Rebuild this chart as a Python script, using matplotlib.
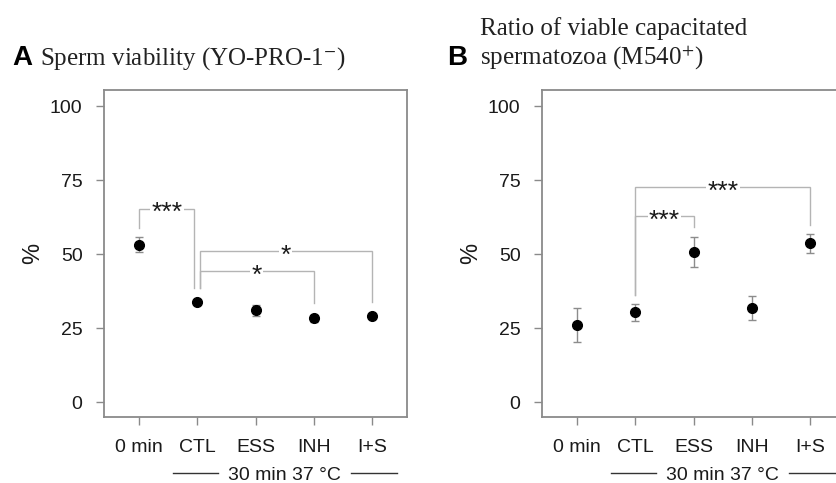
import matplotlib
matplotlib.use("Agg")
import matplotlib.pyplot as plt
import matplotlib.transforms as mtransforms

plt.rcParams["font.family"] = ["Liberation Sans", "DejaVu Sans"]
plt.rcParams["mathtext.fontset"] = "stix"

groups = ["0 min", "CTL", "ESS", "INH", "I+S"]

# A: viable sperm (YO-PRO-1 negative), mean and error
viab_mean = [53.2, 33.8, 31.0, 28.4, 29.1]
viab_err = [2.5, 0.7, 1.8, 1.2, 0.8]

# B: viable capacitated sperm (M540 positive), mean and error
cap_mean = [26.0, 30.3, 50.8, 31.9, 53.6]
cap_err = [5.8, 2.8, 5.1, 4.0, 3.3]

# significance brackets: x1, x2, y of bar, bottom of left leg, bottom of right leg, label
brackets_a = [
    (1.0, 1.95, 65.4, 58.8, 38.5, "***"),
    (2.04, 5.0, 51.1, 38.5, 33.8, "*"),
    (2.04, 4.0, 44.4, 38.5, 33.4, "*"),
]
brackets_b = [
    (2.0, 5.0, 72.7, 36.1, 59.8, "***"),
    (2.0, 3.0, 62.9, 36.1, 59.2, "***"),
]

FRAME = "#8a8a8a"
BRACKET = "#b4b4b4"
TXT = "#1a1a1a"

fig = plt.figure(figsize=(8.37, 4.83), dpi=100)
ax_a = fig.add_axes([0.1243, 0.1366, 0.362, 0.677])
ax_b = fig.add_axes([0.6476, 0.1366, 0.362, 0.677])


def draw_panel(ax, mean, err, brackets):
    xs = list(range(1, len(groups) + 1))
    ax.errorbar(xs, mean, yerr=err, fmt="none", ecolor="#8c8c8c",
                elinewidth=1.0, capsize=3, capthick=1.0, zorder=2)
    ax.plot(xs, mean, "o", color="black", markersize=7, zorder=3)

    for x1, x2, y, y1, y2, lab in brackets:
        ax.plot([x1, x1, x2, x2], [y1, y, y, y2], color=BRACKET, lw=1.0,
                zorder=1, solid_joinstyle="miter")
        off = mtransforms.offset_copy(ax.transData, fig=fig, x=0, y=-8.5,
                                      units="points")
        ax.text((x1 + x2) / 2, y, lab, transform=off, ha="center",
                va="baseline", fontsize=19, color=TXT, zorder=4,
                bbox=dict(facecolor="white", edgecolor="none", pad=1.0))

    ax.set_xlim(0.4, 5.6)
    ax.set_ylim(-5, 105.4)
    ax.set_xticks(xs)
    ax.set_xticklabels(groups)
    ax.set_yticks([0, 25, 50, 75, 100])
    ax.set_ylabel("%", fontsize=17, color=TXT, labelpad=4)
    ax.tick_params(axis="both", direction="out", length=5.5, width=1.0,
                   color=FRAME, labelsize=14, labelcolor=TXT, pad=10)
    for sp in ax.spines.values():
        sp.set_color(FRAME)
        sp.set_linewidth(1.3)

    # "30 min 37 °C" group label under the four treatments
    tr = mtransforms.blended_transform_factory(ax.transData, ax.transAxes)
    ax.text(3.5, -0.193, "30 min 37 °C", transform=tr, ha="center",
            va="baseline", fontsize=14, color=TXT, clip_on=False)
    ax.plot([1.58, 2.36], [-0.17, -0.17], transform=tr, color="#333333",
            lw=1.0, clip_on=False)
    ax.plot([4.64, 5.42], [-0.17, -0.17], transform=tr, color="#333333",
            lw=1.0, clip_on=False)


draw_panel(ax_a, viab_mean, viab_err, brackets_a)
draw_panel(ax_b, cap_mean, cap_err, brackets_b)

serif = ["Liberation Serif", "DejaVu Serif"]
fig.text(12 / 837, 1 - 65 / 483, "A", fontsize=20, fontweight="bold",
         ha="left", va="baseline", color="black")
fig.text(40 / 837, 1 - 65 / 483, "Sperm viability (YO-PRO-1$^{-}$)",
         family=serif, fontsize=18, ha="left", va="baseline", color="#222222")
fig.text(447 / 837, 1 - 65 / 483, "B", fontsize=20, fontweight="bold",
         ha="left", va="baseline", color="black")
fig.text(480 / 837, 1 - 35 / 483, "Ratio of viable capacitated",
         family=serif, fontsize=18, ha="left", va="baseline", color="#222222")
fig.text(480 / 837, 1 - 65 / 483, "spermatozoa (M540$^{+}$)",
         family=serif, fontsize=18, ha="left", va="baseline", color="#222222")

fig.savefig("out.png", dpi=100, facecolor="white")
